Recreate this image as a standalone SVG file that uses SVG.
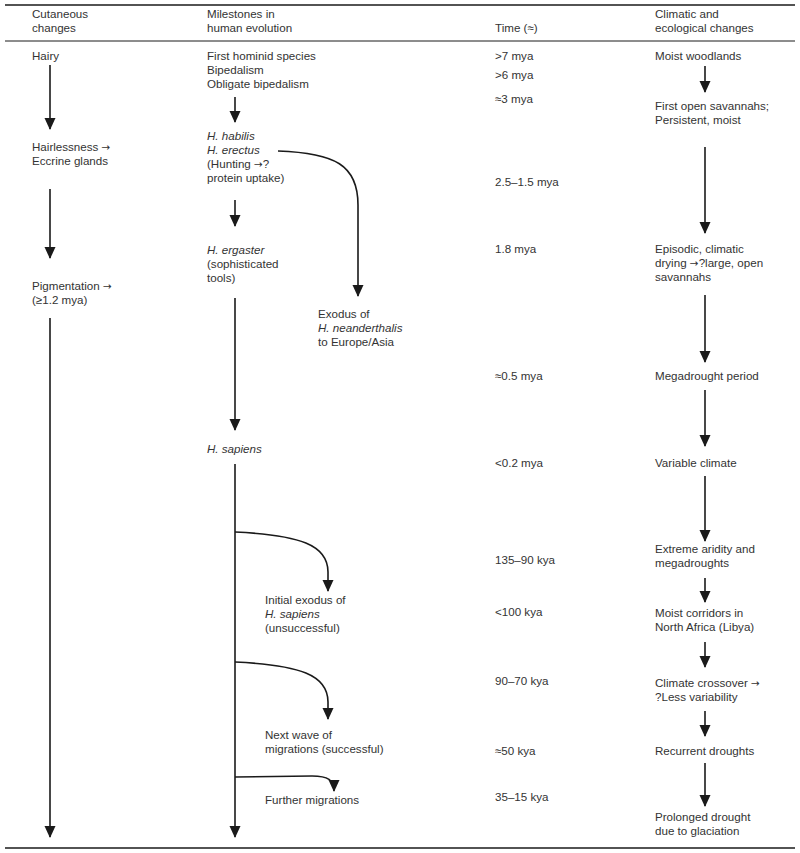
<svg xmlns="http://www.w3.org/2000/svg" width="800" height="853" viewBox="0 0 800 853">
<style>
text{font-family:"Liberation Sans",Arial,sans-serif;font-size:11.6px;fill:#333}
.i{font-style:italic}
.a{font-family:"DejaVu Sans",sans-serif;font-size:10.5px}
.rule{stroke:#1a1a1a;fill:none}
.c{stroke:#1a1a1a;stroke-width:1.6;fill:none;marker-end:url(#ah)}
</style>
<defs>
<marker id="ah" markerUnits="userSpaceOnUse" markerWidth="12" markerHeight="12" viewBox="0 0 12 12" refX="11" refY="6" orient="auto">
<path d="M0,0.5 L12,6 L0,11.5 z" fill="#1a1a1a"/>
</marker>
</defs>
<rect width="800" height="853" fill="#fff"/>
<g id="rules">
<line class="rule" x1="5" y1="5" x2="795" y2="5" stroke-width="1.5"/>
<line class="rule" x1="5" y1="41" x2="795" y2="41" stroke-width="1"/>
<line class="rule" x1="5" y1="848" x2="795" y2="848" stroke-width="1.5"/>
</g>
<g id="header">
<text x="32" y="18">Cutaneous</text><text x="32" y="32">changes</text>
<text x="207" y="18">Milestones in</text><text x="207" y="32">human evolution</text>
<text x="495" y="32">Time (≈)</text>
<text x="655" y="18">Climatic and</text><text x="655" y="32">ecological changes</text>
</g>
<g id="cutaneous">
<g id="hairy"><text x="32" y="60">Hairy</text></g>
<g id="hairlessness"><text x="32" y="151">Hairlessness <tspan class="a">→</tspan></text><text x="32" y="165">Eccrine glands</text></g>
<g id="pigmentation"><text x="32" y="290">Pigmentation <tspan class="a">→</tspan></text><text x="32" y="304">(≥1.2 mya)</text></g>
</g>
<g id="milestones">
<g id="first"><text x="207" y="60">First hominid species</text><text x="207" y="74">Bipedalism</text><text x="207" y="88">Obligate bipedalism</text></g>
<g id="habilis"><text x="207" y="140" class="i">H. habilis</text><text x="207" y="154" class="i">H. erectus</text><text x="207" y="168">(Hunting <tspan class="a">→</tspan>?</text><text x="207" y="182">protein uptake)</text></g>
<g id="ergaster"><text x="207" y="254" class="i">H. ergaster</text><text x="207" y="268">(sophisticated</text><text x="207" y="282">tools)</text></g>
<g id="neanderthalis"><text x="318" y="318">Exodus of</text><text x="318" y="332" class="i">H. neanderthalis</text><text x="318" y="346">to Europe/Asia</text></g>
<g id="sapiens"><text x="207" y="453" class="i">H. sapiens</text></g>
<g id="initial"><text x="265" y="604">Initial exodus of</text><text x="265" y="618" class="i">H. sapiens</text><text x="265" y="632">(unsuccessful)</text></g>
<g id="nextwave"><text x="265" y="739">Next wave of</text><text x="265" y="753">migrations (successful)</text></g>
<g id="further"><text x="265" y="804">Further migrations</text></g>
</g>
<g id="time">
<text x="495" y="60">&gt;7 mya</text>
<text x="495" y="79">&gt;6 mya</text>
<text x="495" y="103">≈3 mya</text>
<text x="495" y="186">2.5–1.5 mya</text>
<text x="495" y="253">1.8 mya</text>
<text x="495" y="380">≈0.5 mya</text>
<text x="495" y="467">&lt;0.2 mya</text>
<text x="495" y="564">135–90 kya</text>
<text x="495" y="616">&lt;100 kya</text>
<text x="495" y="685">90–70 kya</text>
<text x="495" y="755">≈50 kya</text>
<text x="495" y="801">35–15 kya</text>
</g>
<g id="climate">
<g id="c1"><text x="655" y="60">Moist woodlands</text></g>
<g id="c2"><text x="655" y="110">First open savannahs;</text><text x="655" y="124">Persistent, moist</text></g>
<g id="c3"><text x="655" y="253">Episodic, climatic</text><text x="655" y="267">drying <tspan class="a">→</tspan>?large, open</text><text x="655" y="281">savannahs</text></g>
<g id="c4"><text x="655" y="380">Megadrought period</text></g>
<g id="c5"><text x="655" y="467">Variable climate</text></g>
<g id="c6"><text x="655" y="553">Extreme aridity and</text><text x="655" y="567">megadroughts</text></g>
<g id="c7"><text x="655" y="617">Moist corridors in</text><text x="655" y="631">North Africa (Libya)</text></g>
<g id="c8"><text x="655" y="687">Climate crossover <tspan class="a">→</tspan></text><text x="655" y="701">?Less variability</text></g>
<g id="c9"><text x="655" y="755">Recurrent droughts</text></g>
<g id="c10"><text x="655" y="821">Prolonged drought</text><text x="655" y="835">due to glaciation</text></g>
</g>
<g id="connectors">
<path class="c" d="M50,65 V129"/>
<path class="c" d="M50,189 V258"/>
<path class="c" d="M50,318 V837"/>
<path class="c" d="M235,97 V122"/>
<path class="c" d="M235,200 V226"/>
<path class="c" d="M235,298 V430"/>
<path class="c" d="M235,464 V837"/>
<path class="c" d="M278,151 C335,153 358,165 358,205 L358,296"/>
<path class="c" d="M235,532 C300,535 328,545 328,572 L328,591"/>
<path class="c" d="M235,662 C300,665 328,675 328,702 L328,719"/>
<path class="c" d="M235,777 L312,776 C328,776 334,780 334,791"/>
<path class="c" d="M705,66 V92"/>
<path class="c" d="M705,147 V233"/>
<path class="c" d="M705,295 V362"/>
<path class="c" d="M705,390 V446"/>
<path class="c" d="M705,476 V541"/>
<path class="c" d="M705,578 V602"/>
<path class="c" d="M705,642 V667"/>
<path class="c" d="M705,711 V736"/>
<path class="c" d="M705,763 V806"/>
</g>
</svg>
